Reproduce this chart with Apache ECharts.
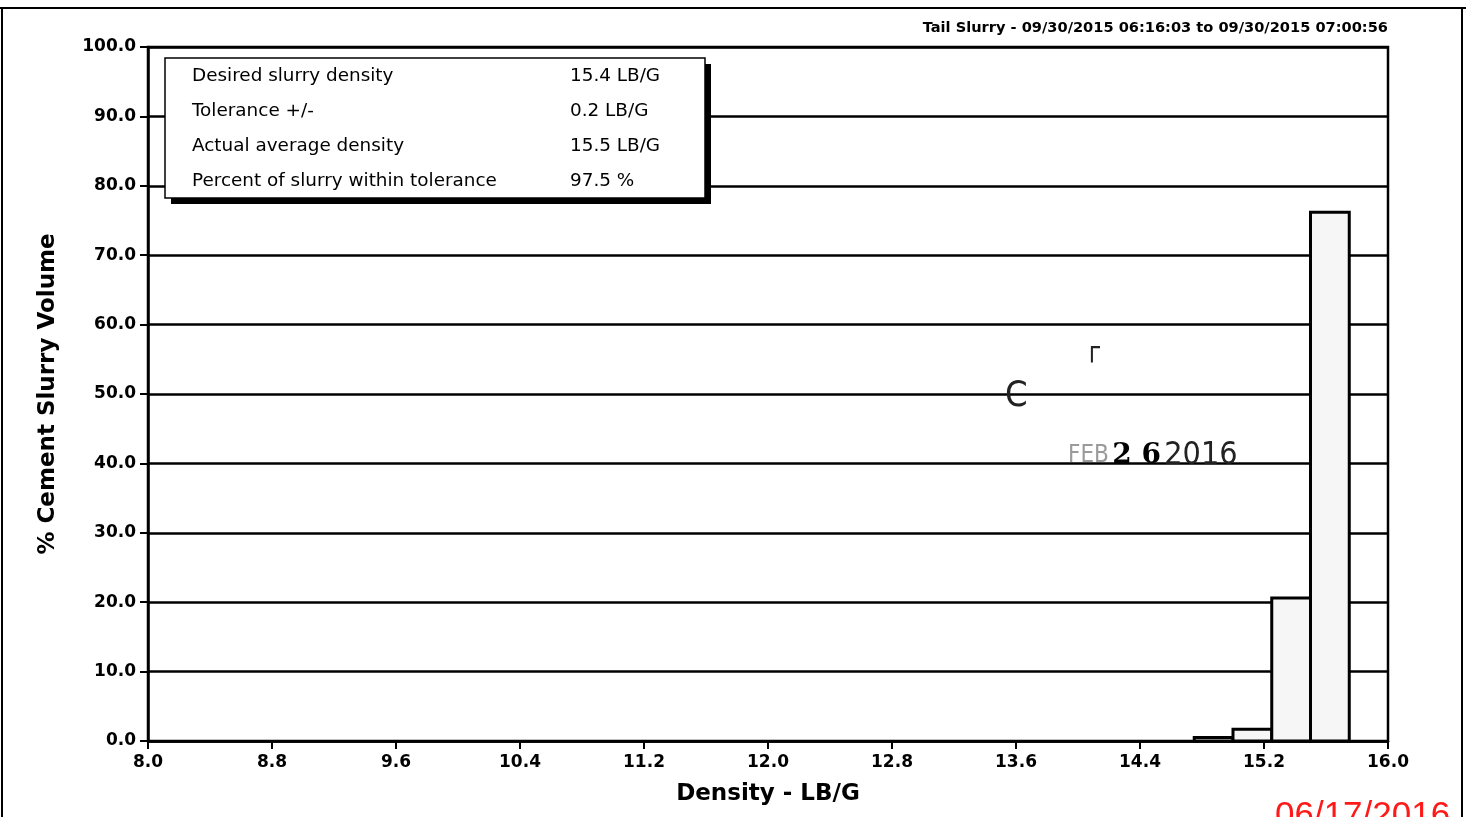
<!DOCTYPE html>
<html>
<head>
<meta charset="utf-8">
<script src="https://cdn.jsdelivr.net/npm/echarts@6/dist/echarts.min.js"></script>
<style>
html,body{margin:0;padding:0;background:#fff;}
#chart{width:1466px;height:817px;}
</style>
</head>
<body>
<div id="chart"></div>
<script>
// Data
const binStart = [14.75, 15.0, 15.25, 15.5];
const binEnd = [15.0, 15.25, 15.5, 15.75];
const volume = [0.5, 1.7, 20.6, 76.2];
const infoLabels = ['Desired slurry density', 'Tolerance +/-', 'Actual average density', 'Percent of slurry within tolerance'];
const infoValues = ['15.4 LB/G', '0.2 LB/G', '15.5 LB/G', '97.5 %'];
const titleText = 'Tail Slurry - 09/30/2015 06:16:03 to 09/30/2015 07:00:56';

const FONT = 'DejaVu Sans';
const chart = echarts.init(document.getElementById('chart'));

const barData = binStart.map((s, i) => [s, binEnd[i], volume[i]]);

const infoGraphics = [];
infoLabels.forEach((t, i) => {
  infoGraphics.push({type:'text', left:192, top:67 + i*35, z:22, style:{text:t, font:'18.4px "' + FONT + '"', fill:'#000'}});
  infoGraphics.push({type:'text', left:570, top:67 + i*35, z:22, style:{text:infoValues[i], font:'18.4px "' + FONT + '"', fill:'#000'}});
});

chart.setOption({
  animation:false,
  backgroundColor:'#fff',
  grid:{left:148, right:78, top:47, bottom:76, show:true, borderColor:'#000', borderWidth:2.5, backgroundColor:'transparent'},
  xAxis:{
    type:'value', min:8, max:16, interval:0.8,
    name:'Density - LB/G', nameLocation:'middle', nameGap:42,
    nameTextStyle:{fontFamily:FONT, fontWeight:'bold', fontSize:23, color:'#000'},
    axisLine:{lineStyle:{color:'#000', width:2.5}},
    axisTick:{show:true, length:8, lineStyle:{color:'#000', width:2}},
    axisLabel:{fontFamily:FONT, fontWeight:'bold', fontSize:17, color:'#000', margin:13,
      formatter:v => v.toFixed(1)},
    splitLine:{show:false}
  },
  yAxis:{
    type:'value', min:0, max:100, interval:10,
    name:'% Cement Slurry Volume', nameLocation:'middle', nameGap:88,
    nameTextStyle:{fontFamily:FONT, fontWeight:'bold', fontSize:23, color:'#000'},
    axisLine:{show:true, lineStyle:{color:'#000', width:2.5}},
    axisTick:{show:true, length:8, lineStyle:{color:'#000', width:2}},
    axisLabel:{fontFamily:FONT, fontWeight:'bold', fontSize:17, color:'#000', margin:12,
      formatter:v => v.toFixed(1)},
    splitLine:{show:true, lineStyle:{color:'#000', width:2.5}}
  },
  series:[{
    type:'custom',
    data:barData,
    encode:{x:[0,1], y:2},
    renderItem:function(params, api){
      const p0 = api.coord([api.value(0), api.value(2)]);
      const p1 = api.coord([api.value(1), 0]);
      return {type:'rect', shape:{x:p0[0], y:p0[1], width:p1[0]-p0[0], height:p1[1]-p0[1]},
        style:{fill:'#f6f6f6', stroke:'#000', lineWidth:3}};
    },
    z:5
  }],
  graphic:[
    // outer frame
    {type:'line', shape:{x1:0, y1:8, x2:1466, y2:8}, style:{stroke:'#000', lineWidth:2}, z:10},
    {type:'line', shape:{x1:2, y1:8, x2:2, y2:817}, style:{stroke:'#000', lineWidth:2}, z:10},
    {type:'line', shape:{x1:1462, y1:8, x2:1462, y2:817}, style:{stroke:'#000', lineWidth:2}, z:10},
    // title
    {type:'text', right:78, top:21, style:{text:titleText, font:'bold 14.6px "' + FONT + '"', fill:'#000', textAlign:'right'}, z:10},
    // info box shadow + box
    {type:'rect', shape:{x:171, y:64, width:540, height:140}, style:{fill:'#000'}, z:20},
    {type:'rect', shape:{x:165, y:58, width:540, height:140}, style:{fill:'#fff', stroke:'#000', lineWidth:1.5}, z:21},
    {type:'group', z:22, children:infoGraphics},
    // stamp
    {type:'text', left:1005, top:379, style:{text:'C', font:'36px "DejaVu Sans Condensed"', fill:'#222'}, z:6},
    {type:'text', left:1084, top:336, style:{text:'\u250C', font:'26px "DejaVu Sans"', fill:'#222'}, z:6},
    {type:'text', left:1068, top:440, style:{
      text:'{a|FEB} {b|2 6} {c|2016}',
      rich:{
        a:{fontFamily:'DejaVu Sans Condensed', fontSize:24, fill:'#9a9a9a'},
        b:{fontFamily:'DejaVu Serif', fontWeight:'bold', fontSize:28, fill:'#000'},
        c:{fontFamily:'DejaVu Sans Condensed', fontSize:32, fill:'#222'}
      }}, z:6},
    // red date
    {type:'text', left:1275, top:799, style:{text:'06/17/2016', font:'35px "Liberation Sans"', fill:'#ff1a1a'}, z:10}
  ]
});
</script>
</body>
</html>
